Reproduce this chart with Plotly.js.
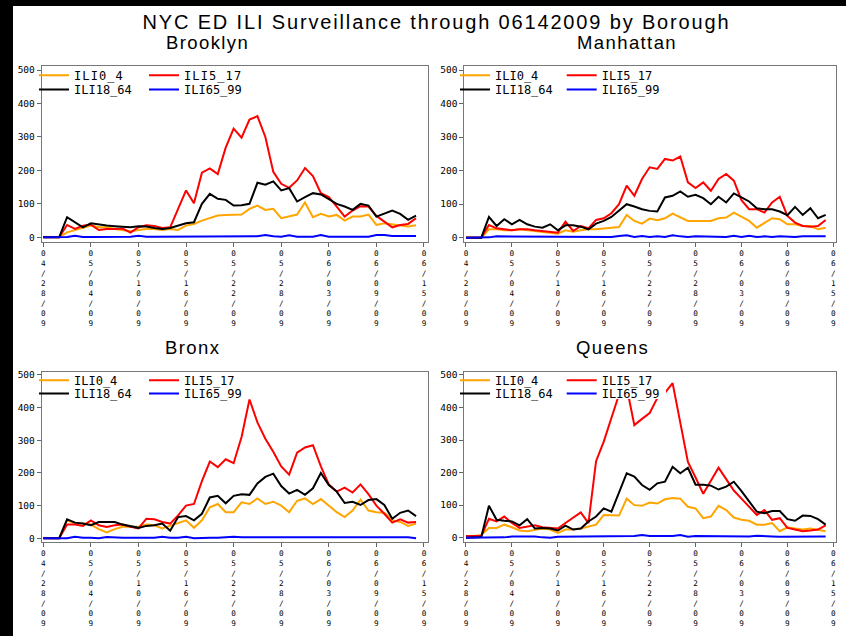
<!DOCTYPE html>
<html><head><meta charset="utf-8">
<script src="https://cdn.plot.ly/plotly-3.0.1.min.js"></script>
<style>
html,body{margin:0;padding:0;background:#000;}
#chart{width:846px;height:636px;}
.gtitle{letter-spacing:1.85px;}
.annotation-text{letter-spacing:1.4px;}
.legendtext{letter-spacing:1.1px;}
</style></head><body><div id="chart"></div>
<script>
// ---------------- DATA ----------------
const dates = ['2009-04-28','2009-04-29','2009-04-30','2009-05-01','2009-05-02','2009-05-03','2009-05-04','2009-05-05','2009-05-06','2009-05-07','2009-05-08','2009-05-09','2009-05-10','2009-05-11','2009-05-12','2009-05-13','2009-05-14','2009-05-15','2009-05-16','2009-05-17','2009-05-18','2009-05-19','2009-05-20','2009-05-21','2009-05-22','2009-05-23','2009-05-24','2009-05-25','2009-05-26','2009-05-27','2009-05-28','2009-05-29','2009-05-30','2009-05-31','2009-06-01','2009-06-02','2009-06-03','2009-06-04','2009-06-05','2009-06-06','2009-06-07','2009-06-08','2009-06-09','2009-06-10','2009-06-11','2009-06-12','2009-06-13','2009-06-14'];
const tickDates = ['2009-04-28','2009-05-04','2009-05-10','2009-05-16','2009-05-22','2009-05-28','2009-06-03','2009-06-09','2009-06-15'];
const tickLabels = ['04/28/09','05/04/09','05/10/09','05/16/09','05/22/09','05/28/09','06/03/09','06/09/09','06/15/09'];
const yTicks = [0,100,200,300,400,500];
const boroughs = ['Brooklyn','Manhattan','Bronx','Queens'];
const seriesNames = ['ILI0_4','ILI5_17','ILI18_64','ILI65_99'];
const mainTitle = 'NYC ED ILI Surveillance through 06142009 by Borough';

const brooklyn_0_4   = [2,2,0,15,22,30,35,30,30,25,22,18,22,25,25,22,25,22,35,40,50,58,65,67,67,68,85,95,82,85,57,62,68,104,60,70,62,67,50,62,62,68,37,42,39,35,32,36];
const brooklyn_5_17  = [0,0,0,37,25,35,38,22,25,25,26,14,30,36,34,28,30,85,140,102,193,206,189,268,325,298,352,362,300,196,160,148,170,207,183,132,120,92,62,80,93,92,64,47,30,37,40,57];
const brooklyn_18_64 = [0,0,0,60,45,30,42,38,35,33,32,30,33,32,28,25,28,35,42,45,100,130,115,112,95,96,100,163,157,167,140,147,107,120,132,128,113,100,92,82,100,95,62,72,80,70,52,65];
const brooklyn_65_99 = [0,0,0,1,5,1,1,1,1,1,2,2,5,2,2,2,2,2,2,2,4,4,2,2,2,2,3,3,7,3,2,6,2,2,2,7,2,2,2,3,3,2,7,7,4,4,4,4];

const manhattan_0_4   = [2,2,0,25,25,22,22,25,22,20,18,15,12,22,18,22,25,25,28,30,32,68,50,42,57,52,58,72,62,50,50,50,50,58,60,75,62,50,30,45,58,55,40,40,35,35,25,30];
const manhattan_5_17  = [0,0,0,38,28,25,22,25,25,22,20,18,15,48,20,35,28,53,58,73,100,155,125,175,210,205,235,230,242,165,148,165,140,175,190,170,112,85,85,75,105,122,65,45,35,33,35,53];
const manhattan_18_64 = [0,0,0,62,35,55,40,53,40,33,30,40,22,37,37,33,25,42,50,62,80,100,93,85,80,78,120,125,138,122,128,118,100,122,105,132,120,108,88,85,85,78,67,92,68,88,58,68];
const manhattan_65_99 = [0,0,0,1,4,4,2,4,4,4,2,2,2,2,4,4,4,2,2,2,5,7,2,5,2,4,2,7,4,2,4,4,4,2,2,6,2,6,2,4,2,4,2,2,4,4,2,4];

const bronx_0_4   = [2,2,0,55,45,45,42,28,18,28,35,35,35,42,40,30,38,48,55,32,55,95,105,80,80,110,105,122,105,112,100,80,115,122,105,120,100,80,65,85,118,85,80,78,55,50,38,45];
const bronx_5_17  = [0,0,0,42,42,38,55,40,35,40,42,35,30,60,58,50,45,70,100,105,175,235,218,242,230,310,425,355,305,265,220,195,262,278,285,220,165,143,155,140,165,135,100,75,48,58,48,50];
const bronx_18_64 = [0,0,0,58,48,45,40,50,50,50,42,38,32,38,40,45,23,65,68,55,75,125,130,107,130,135,133,168,188,198,160,137,148,133,153,200,163,143,108,112,102,117,120,102,60,78,85,68];
const bronx_65_99 = [0,0,0,0,5,2,2,0,4,2,2,2,2,2,2,5,2,2,5,0,2,2,2,3,5,3,3,5,5,5,5,5,4,5,5,3,3,3,3,3,5,5,3,3,3,3,3,0];

const queens_0_4   = [5,5,8,30,30,40,32,22,20,25,28,25,15,25,25,28,35,40,70,70,68,120,100,98,108,105,118,122,120,95,90,60,65,98,85,62,55,52,40,40,45,20,32,28,25,28,25,20];
const queens_5_17  = [5,5,5,58,50,65,45,30,35,38,32,30,28,45,62,78,45,235,295,365,440,462,346,365,383,429,445,475,355,233,185,135,175,215,180,145,120,95,70,85,55,60,30,25,20,22,25,38];
const queens_18_64 = [0,0,2,98,55,52,50,38,57,28,30,28,22,37,25,28,50,65,90,80,140,198,188,162,147,167,172,218,198,215,163,163,160,148,157,172,143,110,80,75,82,82,57,52,68,67,57,40];
const queens_65_99 = [0,0,0,1,1,1,4,4,4,4,1,0,3,3,3,3,3,4,3,3,5,5,5,8,5,5,5,5,8,3,5,5,3,3,4,4,4,4,6,6,4,3,3,3,3,5,5,4];

const boroughData = [
  [brooklyn_0_4, brooklyn_5_17, brooklyn_18_64, brooklyn_65_99],
  [manhattan_0_4, manhattan_5_17, manhattan_18_64, manhattan_65_99],
  [bronx_0_4, bronx_5_17, bronx_18_64, bronx_65_99],
  [queens_0_4, queens_5_17, queens_18_64, queens_65_99]
];

// ---------------- STYLE / LAYOUT ----------------
const W = 846, H = 636;
const px = v => v / W;
const py = v => 1 - v / H;
const seriesColors = ['#ffa500', '#ff0000', '#000000', '#0000ff'];
const legendFontSize = 12;
const legendCenterOffset = (legendFontSize * 1.3 + 3) / 2 + 5;

function shiftDate(d, days) {
  const t = new Date(d + 'T00:00:00Z').getTime() + days * 864e5;
  return new Date(t).toISOString().slice(0, 19).replace('T', ' ');
}

const panels = [
  {fx:[41.7,427.7], fy:[66,241.7], xpad:[-0.2,0.47], yr:[-13.1,512], tx:74,  rows:[75,89.3],    sp:110},
  {fx:[464.3,835.7], fy:[66,241.7], xpad:[-0.22,0.31], yr:[-11.9,512], tx:495, rows:[75,89.3],  sp:106.7},
  {fx:[41.7,427.7], fy:[371.7,541.7], xpad:[-0.2,0.47], yr:[-10.4,510], tx:74, rows:[380,393.3], sp:110},
  {fx:[464.3,835.7], fy:[371.7,541.7], xpad:[-0.22,0.31], yr:[-12.3,510], tx:495, rows:[380,393.3], sp:106.7}
];
const titlePos = [[207,42.7],[627,42.7],[192,347],[612,347]];

const traces = [];
const layout = {
  width: W, height: H,
  margin: {l:0, r:0, t:0, b:0},
  paper_bgcolor: '#000000',
  plot_bgcolor: '#ffffff',
  showlegend: true,
  title: {text: mainTitle, font:{family:'Liberation Sans, Arial, sans-serif', size:20, color:'#000'},
          x: px(436.5), xanchor:'center', xref:'paper', y: py(22), yanchor:'middle', yref:'container'},
  shapes: [
    {type:'rect', xref:'paper', yref:'paper', x0:px(13), x1:1, y0:0, y1:py(6), fillcolor:'#ffffff', line:{width:0}, layer:'below'},
    {type:'rect', xref:'paper', yref:'paper', x0:px(598), x1:px(666), y0:py(399), y1:py(386.5), fillcolor:'#ffffff', line:{width:0}, layer:'above'}
  ],
  annotations: []
};

const ticktextStacked = tickLabels.map(s => s.split('').join('<br>'));

panels.forEach((p, i) => {
  const n = i + 1;
  const xa = 'xaxis' + (n === 1 ? '' : n), ya = 'yaxis' + (n === 1 ? '' : n);
  const xr = 'x' + (n === 1 ? '' : n), yr = 'y' + (n === 1 ? '' : n);
  layout[xa] = {
    domain:[px(p.fx[0]), px(p.fx[1])], anchor: yr, type:'date',
    range:[shiftDate(tickDates[0], p.xpad[0]), shiftDate(tickDates[tickDates.length-1], p.xpad[1])],
    tickmode:'array', tickvals: tickDates, ticktext: ticktextStacked, tickangle:0,
    ticks:'outside', ticklen:4, tickwidth:1, tickcolor:'#666',
    showline:true, linecolor:'#777', linewidth:1, mirror:true,
    showgrid:false, zeroline:false, fixedrange:true,
    tickfont:{family:'DejaVu Sans Mono, monospace', size:7.7, color:'#000'}
  };
  layout[ya] = {
    domain:[py(p.fy[1]), py(p.fy[0])], anchor: xr, range: p.yr,
    tickmode:'array', tickvals: yTicks, ticktext: yTicks.map(String),
    ticks:'outside', ticklen:4, tickwidth:1, tickcolor:'#666',
    showline:true, linecolor:'#777', linewidth:1, mirror:true,
    showgrid:false, zeroline:false, fixedrange:true,
    tickfont:{family:'DejaVu Sans Mono, monospace', size:9.5, color:'#000'}
  };
  const lg1 = 'legend' + (2*i+1 === 1 ? '' : 2*i+1);
  const lg2 = 'legend' + (2*i+2);
  [[lg1, p.rows[0]], [lg2, p.rows[1]]].forEach(([id, rc]) => {
    layout[id] = {
      orientation:'h', x: px(p.tx - 40), xanchor:'left', y: py(rc - legendCenterOffset), yanchor:'top',
      bgcolor:'rgba(0,0,0,0)', borderwidth:0, traceorder:'normal',
      font:{family:'DejaVu Sans Mono, monospace', size:legendFontSize, color:'#000'}
    };
  });
  boroughData[i].forEach((vals, s) => {
    traces.push({
      type:'scatter', mode:'lines', x: dates, y: vals, name: seriesNames[s],
      xaxis: xr, yaxis: yr, legend: (s < 2 ? lg1 : lg2),
      legendwidth: (s % 2 === 0 ? p.sp - 45 : 80),
      line:{color: seriesColors[s], width:2}, hoverinfo:'skip'
    });
  });
  layout.annotations.push({
    text: boroughs[i], xref:'paper', yref:'paper', x: px(titlePos[i][0]), y: py(titlePos[i][1]),
    xanchor:'center', yanchor:'middle', showarrow:false,
    font:{family:'Liberation Sans, Arial, sans-serif', size:18.5, color:'#000'}
  });
});

Plotly.newPlot('chart', traces, layout, {staticPlot:true, displayModeBar:false});
</script></body></html>
